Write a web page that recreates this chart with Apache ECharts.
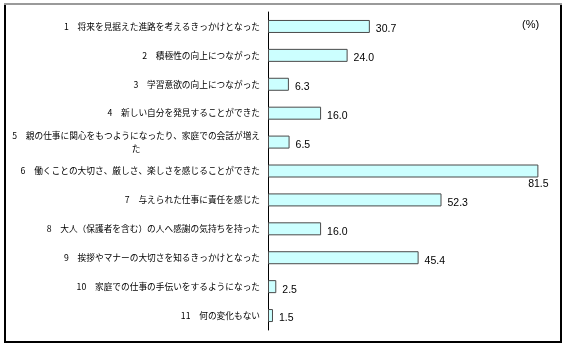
<!DOCTYPE html>
<html>
<head>
<meta charset="utf-8">
<script src="https://cdn.jsdelivr.net/npm/echarts@6/dist/echarts.min.js"></script>
<style>
html,body{margin:0;padding:0;background:#fff;}
#chart{width:565px;height:346px;}
</style>
</head>
<body>
<div id="chart"></div>
<script>
var categories = [
  '1　将来を見据えた進路を考えるきっかけとなった',
  '2　積極性の向上につながった',
  '3　学習意欲の向上につながった',
  '4　新しい自分を発見することができた',
  '5　親の仕事に関心をもつようになったり、家庭での会話が増え\nた',
  '6　働くことの大切さ、厳しさ、楽しさを感じることができた',
  '7　与えられた仕事に責任を感じた',
  '8　大人（保護者を含む）の人へ感謝の気持ちを持った',
  '9　挨拶やマナーの大切さを知るきっかけとなった',
  '10　家庭での仕事の手伝いをするようになった',
  '11　何の変化もない'
];
var values = [30.7, 24.0, 6.3, 16.0, 6.5, 81.5, 52.3, 16.0, 45.4, 2.5, 1.5];
var unitLabel = '(%)';

var maxVal = Math.max.apply(null, values);
var seriesData = values.map(function (v) {
  if (v === maxVal) {
    return {
      value: v,
      label: { position: ['100%', '100%'], align: 'center', verticalAlign: 'top', distance: 0, offset: [0, 1] }
    };
  }
  return v;
});

var cjkFont = '"Noto Sans CJK JP", sans-serif';
var chart = echarts.init(document.getElementById('chart'), null, { renderer: 'canvas' });
chart.setOption({
  animation: false,
  backgroundColor: '#fff',
  grid: { left: 268, top: 12, height: 318, width: 282 },
  xAxis: { type: 'value', min: 0, max: 85, show: false },
  yAxis: {
    type: 'category',
    data: categories,
    inverse: true,
    axisLine: { show: true, lineStyle: { color: '#000', width: 1 } },
    axisTick: { show: false },
    axisLabel: {
      margin: 8,
      color: '#000',
      fontSize: 8.7,
      fontFamily: cjkFont,
      lineHeight: 13,
      formatter: function (val) {
        var parts = val.split('\n');
        if (parts.length > 1) {
          return '{a|' + parts[0] + '}\n{c|' + parts[1] + '}';
        }
        return val;
      },
      rich: {
        a: { fontSize: 8.7, lineHeight: 13, color: '#000', fontFamily: cjkFont },
        c: { fontSize: 8.7, lineHeight: 13, color: '#000', align: 'center', fontFamily: cjkFont }
      }
    }
  },
  series: [{
    type: 'bar',
    data: seriesData,
    barWidth: 13,
    itemStyle: { color: '#CCFFFF', borderColor: '#4a4a4a', borderWidth: 1 },
    label: {
      show: true,
      position: 'right',
      distance: 6,
      offset: [0, 3],
      color: '#000',
      fontSize: 10.5,
      fontFamily: '"Liberation Sans", Arial, sans-serif',
      formatter: function (p) { return p.value.toFixed(1); }
    }
  }],
  graphic: [
    { type: 'rect', shape: { x: 5, y: 4, width: 556, height: 338 }, style: { fill: 'none', stroke: '#000', lineWidth: 2 }, silent: true },
    { type: 'line', shape: { x1: 4, y1: 4, x2: 562, y2: 4 }, style: { stroke: '#9a9a9a', lineWidth: 2 }, silent: true },
    { type: 'text', left: 522, top: 19, style: { text: unitLabel, fill: '#000', font: '11px "Liberation Sans", Arial, sans-serif' } }
  ]
});
</script>
</body>
</html>
